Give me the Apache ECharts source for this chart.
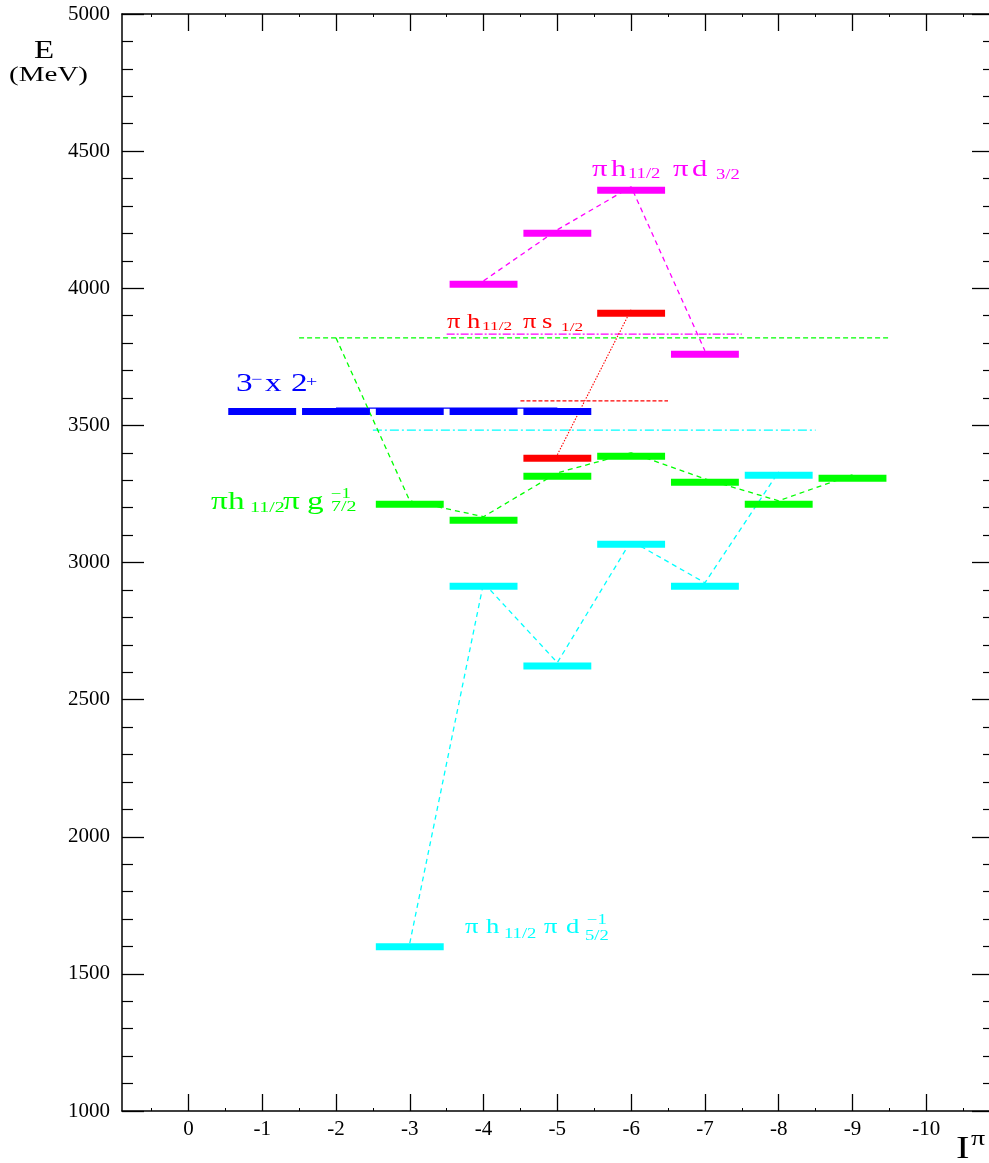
<!DOCTYPE html>
<html><head><meta charset="utf-8">
<script src="https://cdn.jsdelivr.net/npm/echarts@6/dist/echarts.min.js"></script>
<style>html,body{margin:0;padding:0;background:#fff}#c{width:989px;height:1163px}</style>
</head><body><div id="c"></div>
<script>
// ---- data ----
const xTickValues = [0,-1,-2,-3,-4,-5,-6,-7,-8,-9,-10];
const xMinorValues = [0.5,-0.5,-1.5,-2.5,-3.5,-4.5,-5.5,-6.5,-7.5,-8.5,-9.5,-10.5];
const magentaSpins = [-4,-5,-6,-7];
const magentaE = [4027,4213,4370,3772];
const redSpins = [-5,-6];
const redE = [3393,3922];
const blueSpins = [-1,-2,-3,-4,-5];
const blueE = [3563,3563,3563,3563,3563];
const cyanSpins = [-3,-4,-5,-6,-7,-8];
const cyanE = [1612,2926,2635,3079,2926,3331];
const greenSpins = [-3,-4,-5,-6,-7,-8,-9];
const greenE = [3225,3167,3327,3400,3305,3225,3320];
const greenStart = [-2, 3819];
// horizontal reference lines: [fromSpin, toSpin, E]
const greenRef = [-1.5,-9.5,3819];
const magentaRef = [-3.5,-7.5,3833];
const redRef = [-4.5,-6.5,3589];
const cyanRef = [-2.5,-8.5,3483];

const C = {m:'#ff00ff', r:'#ff0000', b:'#0000ff', c:'#00ffff', g:'#00ff00'};
const FONT = 'Liberation Serif';

function pairs(xs, ys){ return xs.map((x,i)=>[x, ys[i]]); }
function levelSeries(xs, ys, color){
  return {
    type:'custom', z:5, data: pairs(xs, ys),
    renderItem: function(params, api){
      const s = api.value(0), e = api.value(1);
      const p1 = api.coord([s+0.46, e]);
      const p2 = api.coord([s-0.46, e]);
      const x0 = Math.min(p1[0],p2[0]), x1 = Math.max(p1[0],p2[0]);
      return {type:'rect', shape:{x:x0, y:p1[1], width:x1-x0, height:7}, style:{fill:color}};
    }
  };
}
function lineSeries(data, color, type, width){
  return {type:'line', data:data, symbol:'none', silent:true, z:3,
    lineStyle:{color:color, width:width||1.3, type:type}};
}
function refLine(r, color, type){ return lineSeries([[r[0],r[2]],[r[1],r[2]]], color, type, 1.3); }
// text piece: left x, baseline y, font size, colour, horizontal stretch
function T(str, x, base, size, color, sx){
  const st = {text:str, fontFamily:FONT, fontSize:size, fill:color, align:'left', verticalAlign:'middle'};
  return {type:'text', x:x, y:base - 0.34*size, scaleX:sx||1.33, z:10, style:st};
}

const chart = echarts.init(document.getElementById('c'));
const xBase = {type:'value', min:-10.85, max:0.9, inverse:true, gridIndex:0,
  splitLine:{show:false}};
const axLine = {show:true, onZero:false, lineStyle:{color:'#000', width:1.5}};
chart.setOption({
  animation:false,
  backgroundColor:'#fff',
  grid:{left:122, right:0, top:14, bottom:52, show:false},
  xAxis:[
    Object.assign({}, xBase, {position:'bottom', axisLine:axLine,
      axisTick:{show:true, inside:true, length:17, customValues:xTickValues, lineStyle:{color:'#000', width:1.3}},
      axisLabel:{show:true, customValues:xTickValues, margin:8, color:'#000', fontFamily:FONT, fontSize:21,
        formatter:v=>String(v)}}),
    Object.assign({}, xBase, {position:'bottom', axisLine:{show:false, onZero:false},
      axisTick:{show:true, inside:true, length:3, customValues:xMinorValues, lineStyle:{color:'#000', width:1}},
      axisLabel:{show:false}}),
    Object.assign({}, xBase, {position:'top', axisLine:axLine,
      axisTick:{show:true, inside:true, length:17, customValues:xTickValues, lineStyle:{color:'#000', width:1.3}},
      axisLabel:{show:false}}),
    Object.assign({}, xBase, {position:'top', axisLine:{show:false, onZero:false},
      axisTick:{show:true, inside:true, length:3, customValues:xMinorValues, lineStyle:{color:'#000', width:1}},
      axisLabel:{show:false}})
  ],
  yAxis:[
    {type:'value', min:1000, max:5000, interval:500, position:'left',
      splitLine:{show:false}, axisLine:axLine,
      axisTick:{inside:true, length:22, lineStyle:{color:'#000', width:1.3}},
      minorTick:{show:true, splitNumber:5, length:11, lineStyle:{color:'#000', width:1.2}},
      axisLabel:{margin:12, color:'#000', fontFamily:FONT, fontSize:21, formatter:v=>String(v)}},
    {type:'value', min:1000, max:5000, interval:500, position:'right',
      splitLine:{show:false}, axisLine:{show:false, onZero:false},
      axisTick:{inside:true, length:17, lineStyle:{color:'#000', width:1.3}},
      minorTick:{show:true, splitNumber:5, length:6, lineStyle:{color:'#000', width:1.2}},
      axisLabel:{show:false}}
  ],
  series:[
    refLine(greenRef, C.g, [5,3]),
    refLine(magentaRef, C.m, [8,2,2,2]),
    refLine(redRef, C.r, [4,2]),
    refLine(cyanRef, C.c, [9,3,2,3]),
    lineSeries([[-2,blueE[1]],[-5,blueE[4]]], C.b, 'solid', 1.2),
    lineSeries(pairs(magentaSpins, magentaE), C.m, [5,4]),
    lineSeries(pairs(redSpins, redE), C.r, [1.5,1.5], 1.1),
    lineSeries([greenStart].concat(pairs(greenSpins, greenE)), C.g, [5,4]),
    lineSeries(pairs(cyanSpins, cyanE), C.c, [5,4]),
    levelSeries(magentaSpins, magentaE, C.m),
    levelSeries(redSpins, redE, C.r),
    levelSeries(blueSpins, blueE, C.b),
    levelSeries(cyanSpins, cyanE, C.c),
    levelSeries(greenSpins, greenE, C.g)
  ],
  graphic:[
    T('E', 34, 60, 26, '#000', 1.27),
    T('(MeV)', 9, 83, 22, '#000', 1.32),
    T('I', 956, 1160, 32, '#000', 1.27),
    T('π', 971, 1147, 22, '#000', 1.27),
    // magenta: π h11/2 π d3/2
    T('π', 592, 178, 23, C.m), T('h', 611, 178, 23, C.m), T('11/2', 628, 179, 14, C.m),
    T('π', 673, 178, 23, C.m), T('d', 692, 178, 23, C.m), T('3/2', 716, 180, 14, C.m),
    // red: π h11/2 π s1/2
    T('π', 447, 330, 20, C.r), T('h', 467, 330, 20, C.r), T('11/2', 482, 331, 13, C.r),
    T('π', 523, 330, 20, C.r), T('s', 542, 330, 20, C.r), T('1/2', 561, 332, 13, C.r),
    // blue: 3− x 2+
    T('3', 236, 393, 25, C.b), T('−', 251, 385, 15, C.b), T('x', 265, 393, 25, C.b),
    T('2', 291, 393, 25, C.b), T('+', 306, 387, 15, C.b),
    // green: πh11/2 π g 7/2 ^-1
    T('π', 211, 511, 25, C.g), T('h', 228, 511, 25, C.g), T('11/2', 250, 513, 15, C.g),
    T('π', 283, 511, 25, C.g), T('g', 307, 511, 25, C.g),
    T('−1', 331, 499, 14, C.g), T('7/2', 331, 512, 15, C.g),
    // cyan: π h11/2 π d5/2 ^-1
    T('π', 465, 935, 20, C.c), T('h', 486, 935, 20, C.c), T('11/2', 504, 939, 14, C.c),
    T('π', 544, 935, 20, C.c), T('d', 566, 935, 20, C.c),
    T('−1', 587, 925, 14, C.c), T('5/2', 585, 941, 14, C.c)
  ]
});
</script>
</body></html>
